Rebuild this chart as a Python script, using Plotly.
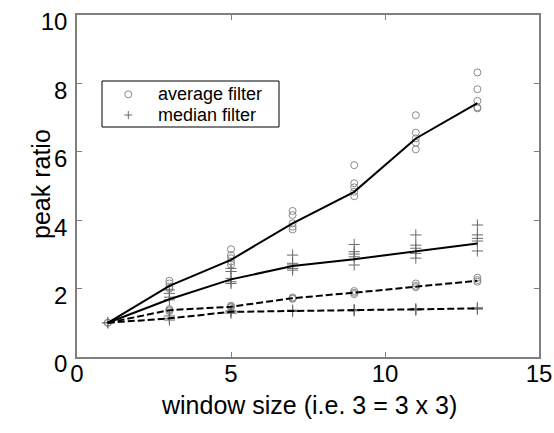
import plotly.graph_objects as go

# window sizes
window = [1, 3, 5, 7, 9, 11, 13]

# fitted / mean curves (solid = first experiment, dashed = second)
avg_solid = [1.0, 2.08, 2.84, 3.91, 4.83, 6.39, 7.42]
med_solid = [1.0, 1.69, 2.27, 2.66, 2.86, 3.08, 3.32]
avg_dashed = [1.0, 1.37, 1.47, 1.72, 1.88, 2.06, 2.23]
med_dashed = [1.0, 1.13, 1.32, 1.35, 1.37, 1.39, 1.42]

# individual measurements, one list per window size
avg_pts_high = [
    [1.0],
    [2.23, 2.15, 2.06, 2.0],
    [3.15, 2.98, 2.89, 2.79, 2.70],
    [4.27, 4.15, 3.91, 3.81, 3.73],
    [5.61, 5.08, 4.96, 4.83, 4.70],
    [7.07, 6.56, 6.39, 6.27, 6.07],
    [8.32, 7.83, 7.49, 7.30, 7.27],
]
avg_pts_low = [
    [1.0],
    [1.40, 1.37, 1.34],
    [1.50, 1.47, 1.45],
    [1.74, 1.72, 1.70],
    [1.93, 1.88, 1.84],
    [2.15, 2.08, 2.04],
    [2.32, 2.25, 2.20],
]
med_pts_high = [
    [1.0],
    [1.96, 1.86, 1.75, 1.67],
    [2.59, 2.50, 2.30, 2.20, 2.15],
    [2.98, 2.74, 2.69, 2.59, 2.54],
    [3.29, 3.08, 3.01, 2.93, 2.69],
    [3.57, 3.27, 3.18, 3.03, 2.89],
    [3.86, 3.57, 3.47, 3.39, 3.10],
]
med_pts_low = [
    [1.0],
    [1.20, 1.13, 1.08],
    [1.35, 1.32, 1.28],
    [1.37, 1.35, 1.33],
    [1.39, 1.37, 1.35],
    [1.41, 1.39, 1.37],
    [1.44, 1.42, 1.40],
]

x_ticks = [0, 5, 10, 15]
y_ticks = [0, 2, 4, 6, 8, 10]
legend_labels = ["average filter", "median filter"]
x_title = "window size (i.e. 3 = 3 x 3)"
y_title = "peak ratio"


def flatten(*group_lists):
    xs, ys = [], []
    for groups in group_lists:
        for w, vals in zip(window, groups):
            for v in vals:
                xs.append(w)
                ys.append(v)
    return xs, ys


FONT = "Liberation Sans, Arial, sans-serif"
GRAY = "#7f7f7f"
CIRC_COL = "#8a8a8a"
PLUS_COL = "#6a6a6a"

fig = go.Figure()

ax, ay = flatten(avg_pts_high, avg_pts_low)
mx, my = flatten(med_pts_high, med_pts_low)

fig.add_trace(go.Scatter(
    x=ax, y=ay, mode="markers", name=legend_labels[0], showlegend=False,
    marker=dict(symbol="circle-open", size=7, color=CIRC_COL, line=dict(width=1)),
))
fig.add_trace(go.Scatter(
    x=mx, y=my, mode="markers", name=legend_labels[1], showlegend=False,
    marker=dict(symbol="cross-thin-open", size=8, color=PLUS_COL, line=dict(width=1, color=PLUS_COL)),
))

for ys, dash in [(avg_solid, "solid"), (med_solid, "solid"),
                 (avg_dashed, "7px,3px"), (med_dashed, "7px,3px")]:
    fig.add_trace(go.Scatter(
        x=window, y=ys, mode="lines", showlegend=False,
        line=dict(color="black", width=2, dash=dash),
    ))

axis_common = dict(
    showline=True, linecolor=GRAY, linewidth=1.5, mirror="ticks",
    ticks="inside", ticklen=5, tickcolor=GRAY, tickwidth=1,
    showgrid=False, zeroline=False, automargin=False,
    tickfont=dict(family=FONT, size=24, color="black"),
)

# plot area in pixels (from margins)
L, T, W, H = 77, 15, 462, 342
def px(x):
    return (x - L) / W
def py(y):
    return (T + H - y) / H

# ---- MATLAB-style legend box ----
shapes = [dict(type="rect", xref="paper", yref="paper",
               x0=px(102), x1=px(279), y0=py(127), y1=py(81),
               line=dict(color="black", width=1), fillcolor="white", layer="above")]
shapes.append(dict(type="circle", xref="paper", yref="paper",
                   x0=px(128.3 - 3.5), x1=px(128.3 + 3.5), y0=py(94.3 + 3.5), y1=py(94.3 - 3.5),
                   line=dict(color=CIRC_COL, width=1), layer="above"))
shapes.append(dict(type="line", xref="paper", yref="paper",
                   x0=px(128.3 - 4), x1=px(128.3 + 4), y0=py(115), y1=py(115),
                   line=dict(color=PLUS_COL, width=1), layer="above"))
shapes.append(dict(type="line", xref="paper", yref="paper",
                   x0=px(128.3), x1=px(128.3), y0=py(111), y1=py(119),
                   line=dict(color=PLUS_COL, width=1), layer="above"))

annotations = [
    dict(text=legend_labels[0], xref="paper", yref="paper", x=px(156), y=py(94.3),
         xanchor="left", yanchor="middle", showarrow=False,
         font=dict(family=FONT, size=18, color="black")),
    dict(text=legend_labels[1], xref="paper", yref="paper", x=px(156), y=py(115),
         xanchor="left", yanchor="middle", showarrow=False,
         font=dict(family=FONT, size=18, color="black")),
    # axis titles
    dict(text=x_title, xref="paper", yref="paper", x=px(309), y=py(405),
         xanchor="center", yanchor="middle", showarrow=False,
         font=dict(family=FONT, size=25, color="black")),
    dict(text=y_title, xref="paper", yref="paper", x=px(41), y=py(184),
         xanchor="center", yanchor="middle", showarrow=False, textangle=-90,
         font=dict(family=FONT, size=25, color="black")),
]

fig.update_layout(
    width=554, height=433,
    margin=dict(l=L, r=554 - L - W, t=T, b=433 - T - H),
    paper_bgcolor="white", plot_bgcolor="white",
    font=dict(family=FONT, color="black"),
    showlegend=False,
    xaxis=dict(range=[0, 15], tickvals=x_ticks, ticklabelstandoff=-6, **axis_common),
    yaxis=dict(range=[0, 10], tickvals=y_ticks, ticklabelstandoff=3,
               ticklabelshift=7, **axis_common),
    shapes=shapes,
    annotations=annotations,
)

fig.write_html("out.html")
